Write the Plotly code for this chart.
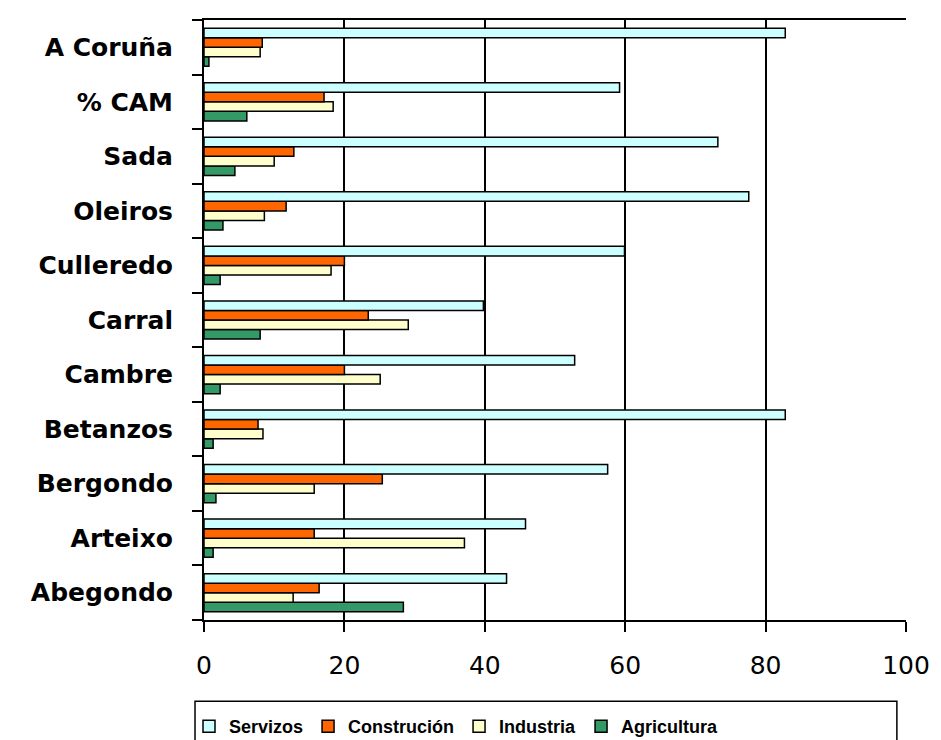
import plotly.graph_objects as go

# categories listed bottom -> top
categories = ["Abegondo", "Arteixo", "Bergondo", "Betanzos", "Cambre", "Carral",
              "Culleredo", "Oleiros", "Sada", "% CAM", "A Coruña"]

servizos    = [43.1, 45.8, 57.5, 82.8, 52.8, 39.8, 59.9, 77.6, 73.2, 59.2, 82.8]
construcion = [16.4, 15.7, 25.4, 7.7, 20.0, 23.4, 20.0, 11.7, 12.8, 17.1, 8.3]
industria   = [12.7, 37.1, 15.7, 8.4, 25.1, 29.1, 18.1, 8.6, 10.0, 18.4, 8.0]
agricultura = [28.4, 1.3, 1.7, 1.3, 2.3, 8.0, 2.3, 2.7, 4.4, 6.1, 0.7]

x_ticks = [0, 20, 40, 60, 80, 100]

series = [
    ("Agricultura", agricultura, "#339966"),
    ("Industria", industria, "#FFFFCC"),
    ("Construción", construcion, "#FF6600"),
    ("Servizos", servizos, "#CCFFFF"),
]

fig = go.Figure()
for name, vals, col in series:
    fig.add_trace(go.Bar(
        y=categories, x=vals, name=name, orientation="h",
        marker=dict(color=col, line=dict(color="black", width=1.5)),
    ))

W, H = 933, 732
L, T = 196, 10
PW, PH = 702, 602.4

fig.update_layout(
    width=W, height=H,
    margin=dict(l=L, r=W - L - PW, t=T, b=H - T - PH, pad=0),
    paper_bgcolor="white", plot_bgcolor="white",
    barmode="group", bargap=0.3, bargroupgap=0,
    font=dict(family="DejaVu Sans", color="black"),
    legend=dict(
        orientation="h", traceorder="reversed",
        x=181 / W, xanchor="left", xref="container",
        y=0.0437, yanchor="top", yref="container",
        font=dict(family="Liberation Sans", size=18, weight="bold", color="black"),
        borderwidth=0, bgcolor="rgba(0,0,0,0)",
        itemwidth=30,
    ),
    xaxis=dict(
        range=[0, 100], tickvals=x_ticks, ticktext=[str(v) for v in x_ticks],
        showgrid=True, gridcolor="black", gridwidth=1.5,
        zeroline=False, showline=True, linecolor="black", linewidth=2, mirror=True,
        ticks="outside", ticklen=10, tickwidth=2, tickcolor="black",
        tickfont=dict(family="DejaVu Sans", size=25, color="black"),
        ticklabelstandoff=12,
    ),
    yaxis=dict(
        type="category", categoryorder="array", categoryarray=categories,
        showgrid=False, zeroline=False, showline=True, linecolor="black", linewidth=2,
        ticks="outside", ticklen=10, tickwidth=2, tickcolor="black",
        tickson="boundaries",
        tickfont=dict(family="DejaVu Sans", size=25, weight="bold", color="black"),
        ticklabelstandoff=24,
    ),
)

# legend frame (Excel-style fixed box)
fig.add_shape(type="rect", xref="paper", yref="paper",
              x0=-0.0128, x1=0.987, y0=-0.1355, y1=-0.23,
              line=dict(color="black", width=1.5), fillcolor="rgba(0,0,0,0)",
              layer="below")

fig.write_html("out.html")
